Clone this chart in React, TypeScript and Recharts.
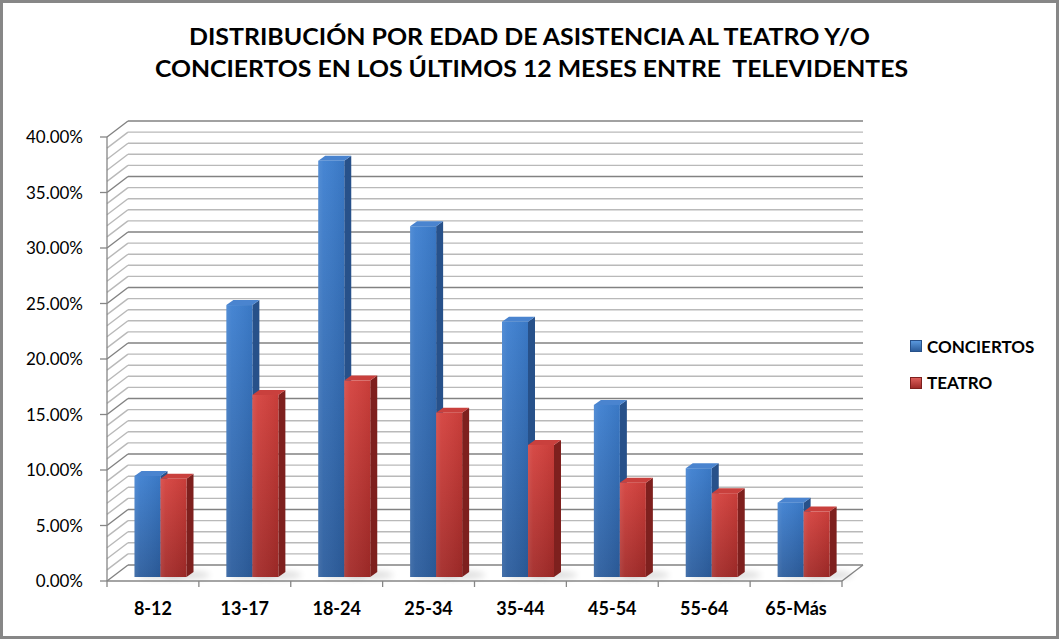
import React from 'react';
import { BarChart, Bar, XAxis, YAxis, CartesianGrid, Legend } from 'recharts';

// ---------- data ----------
const AGE_GROUPS = ['8-12', '13-17', '18-24', '25-34', '35-44', '45-54', '55-64', '65-Más'];
const CONCIERTOS = [9.1, 24.5, 37.5, 31.6, 23.0, 15.5, 9.8, 6.7];
const TEATRO = [8.85, 16.4, 17.7, 14.8, 11.9, 8.5, 7.55, 5.9];
const SERIES_NAMES = ['CONCIERTOS', 'TEATRO'];
const Y_MAX = 40;
const LABEL_STEP = 5;
const GRID_TICKS = [0, 1, 2, 3, 4, 5, 6, 7, 8, 9, 10, 11, 12, 13, 14, 15, 16, 17, 18, 19, 20, 21, 22, 23, 24, 25, 26, 27, 28, 29, 30, 31, 32, 33, 34, 35, 36, 37, 38, 39, 40];
const TITLE_LINES = [
  'DISTRIBUCIÓN POR EDAD DE ASISTENCIA AL TEATRO Y/O',
  'CONCIERTOS EN LOS ÚLTIMOS 12 MESES ENTRE  TELEVIDENTES',
];

const data = AGE_GROUPS.map((age, i) => ({ age, conciertos: CONCIERTOS[i], teatro: TEATRO[i] }));

// ---------- layout / style ----------
const W = 1059;
const H = 639;
const MARGIN = { top: 137, right: 217, bottom: 18, left: 7 };
const Y_AXIS_W = 100;
const X_AXIS_H = 40;
const PLOT_W = W - MARGIN.left - MARGIN.right - Y_AXIS_W;
const BAND = PLOT_W / AGE_GROUPS.length;
const WALL_DX = 21;
const WALL_DY = -16;
const BAR_DX = 7.5;
const BAR_DY = -4;
const DEPTH_X = 7;
const DEPTH_Y = -5;
const AXIS_COLOR = '#868686';
const MINOR_COLOR = '#b9b9b9';
const MAJOR_COLOR = '#828282';
const FONT = 'Lato, "Open Sans", sans-serif';

const BLUE = { front: 'gradBlueFront', side: '#27518a', top: '#4a84cf', legend: 'gradBlueLegend' };
const RED = { front: 'gradRedFront', side: '#7e201e', top: '#c9403d', legend: 'gradRedLegend' };

const gridLine = (p: any) => {
  const { x1, y1, x2, index } = p;
  const value = Math.round(((p.y + p.height - y1) / p.height) * Y_MAX);
  const isMajor = value % LABEL_STEP === 0;
  const color = isMajor ? MAJOR_COLOR : MINOR_COLOR;
  const bx1 = x1 + WALL_DX;
  const bx2 = x2 + WALL_DX;
  const by = y1 + WALL_DY;
  return (
    <g key={`g-${index}`}>
      <line x1={x1} y1={y1} x2={bx1} y2={by} stroke={color} strokeWidth={1.4} />
      <line x1={bx1} y1={by} x2={bx2} y2={by} stroke={color} strokeWidth={1.4} />
      {value === 0 && <line x1={x2} y1={y1} x2={bx2} y2={by} stroke={AXIS_COLOR} strokeWidth={1.3} />}
    </g>
  );
};

const Bar3D = (props: any) => {
  const { x, y, width, height, theme } = props;
  if (!(height > 0)) return null;
  const fx = x + BAR_DX;
  const fy = y + BAR_DY;
  const r = fx + width;
  return (
    <g>
      <ellipse cx={fx + width * 1.0} cy={fy + height - 2} rx={width * 0.9} ry={4} fill="#000" opacity={0.13} filter="url(#shadowBlur)" />
      <path d={`M${r},${fy} L${r + DEPTH_X},${fy + DEPTH_Y} L${r + DEPTH_X},${fy + height + DEPTH_Y} L${r},${fy + height} Z`} fill={theme.side} />
      <path d={`M${fx},${fy} L${fx + DEPTH_X},${fy + DEPTH_Y} L${r + DEPTH_X},${fy + DEPTH_Y} L${r},${fy} Z`} fill={theme.top} />
      <rect x={fx} y={fy} width={width} height={height} fill={`url(#${theme.front})`} />
      <rect x={fx} y={fy} width={width} height={height} fill="url(#gradSheen)" />
    </g>
  );
};

const XTick = (props: any) => {
  const { x, y, payload, index } = props;
  const axisY = y - 34;
  const left = x - BAND / 2;
  const right = x + BAND / 2;
  return (
    <g>
      <line x1={left} y1={axisY} x2={left} y2={axisY + 6} stroke={AXIS_COLOR} strokeWidth={1.3} />
      {index === AGE_GROUPS.length - 1 && (
        <line x1={right} y1={axisY} x2={right} y2={axisY + 6} stroke={AXIS_COLOR} strokeWidth={1.3} />
      )}
      <text x={x} y={y} textAnchor="middle" fontFamily={FONT} fontWeight={700} fontSize={18} fill="#000">
        {payload.value}
      </text>
    </g>
  );
};

const YTick = (props: any) => {
  const { x, y, payload } = props;
  if (payload.value % LABEL_STEP !== 0) return null;
  return (
    <g>
      <line x1={x + 17} y1={y} x2={x + 24} y2={y} stroke={AXIS_COLOR} strokeWidth={1.3} />
      <text x={x} y={y} dy="0.36em" textAnchor="end" fontFamily={FONT} fontSize={17} fill="#000">
        {`${payload.value.toFixed(2)}%`}
      </text>
    </g>
  );
};

const LegendContent = () => {
  const themes = [BLUE, RED];
  return (
    <div style={{ fontFamily: FONT, fontWeight: 700, fontSize: 17, color: '#000' }}>
      {SERIES_NAMES.map((name, i) => (
        <div key={name} style={{ display: 'flex', alignItems: 'center', height: 36.5 }}>
          <svg width={12} height={12} style={{ display: 'block' }}>
            <rect x={0.5} y={0.5} width={11} height={11} fill={`url(#${themes[i].legend})`} stroke={themes[i].side} strokeWidth={1} />
          </svg>
          <span style={{ marginLeft: 5, lineHeight: '17px' }}>{name}</span>
        </div>
      ))}
    </div>
  );
};

export default function App() {
  return (
    <div style={{ position: 'absolute', left: 0, top: 0, width: W, height: H, background: '#fff', overflow: 'hidden' }}>
      <svg width={0} height={0} style={{ position: 'absolute' }}>
        <defs>
          <linearGradient id="gradBlueFront" x1="0" y1="0" x2="0" y2="1">
            <stop offset="0%" stopColor="#3d7fd0" />
            <stop offset="100%" stopColor="#2c5d9d" />
          </linearGradient>
          <linearGradient id="gradRedFront" x1="0" y1="0" x2="0" y2="1">
            <stop offset="0%" stopColor="#d4413d" />
            <stop offset="100%" stopColor="#a22a28" />
          </linearGradient>
          <linearGradient id="gradSheen" x1="0" y1="0" x2="1" y2="0">
            <stop offset="0%" stopColor="#fff" stopOpacity={0.12} />
            <stop offset="20%" stopColor="#fff" stopOpacity={0.05} />
            <stop offset="100%" stopColor="#000" stopOpacity={0.06} />
          </linearGradient>
          <linearGradient id="gradBlueLegend" x1="0" y1="0" x2="0" y2="1">
            <stop offset="0%" stopColor="#5c9be0" />
            <stop offset="100%" stopColor="#2a5a98" />
          </linearGradient>
          <linearGradient id="gradRedLegend" x1="0" y1="0" x2="0" y2="1">
            <stop offset="0%" stopColor="#e0605c" />
            <stop offset="100%" stopColor="#9c2826" />
          </linearGradient>
          <filter id="shadowBlur" x="-50%" y="-200%" width="200%" height="500%">
            <feGaussianBlur stdDeviation="3" />
          </filter>
        </defs>
      </svg>

      <svg width={W} height={100} style={{ position: 'absolute', left: 0, top: 0 }}>
        <text x={529.5} y={45} textAnchor="middle" fontFamily={FONT} fontWeight={700} fontSize={23} fill="#000" textLength={681} lengthAdjust="spacingAndGlyphs" style={{ whiteSpace: 'pre' }}>
          {TITLE_LINES[0]}
        </text>
        <text x={531.5} y={77} textAnchor="middle" fontFamily={FONT} fontWeight={700} fontSize={23} fill="#000" textLength={753} lengthAdjust="spacingAndGlyphs" style={{ whiteSpace: 'pre' }}>
          {TITLE_LINES[1]}
        </text>
      </svg>

      <div style={{ position: 'absolute', left: 0, top: 0 }}>
        <BarChart width={W} height={H} data={data} margin={MARGIN} barGap={0} barSize={26}>
          <CartesianGrid vertical={false} horizontal={gridLine} />
          <XAxis
            dataKey="age"
            height={X_AXIS_H}
            axisLine={{ stroke: AXIS_COLOR, strokeWidth: 1.3 }}
            tickLine={false}
            tickSize={0}
            tickMargin={34}
            tick={<XTick />}
            interval={0}
          />
          <YAxis
            width={Y_AXIS_W}
            domain={[0, Y_MAX]}
            ticks={GRID_TICKS}
            interval={0}
            axisLine={{ stroke: AXIS_COLOR, strokeWidth: 1.3 }}
            tickLine={false}
            tickSize={0}
            tickMargin={24}
            tick={<YTick />}
          />
          <Legend
            layout="vertical"
            align="center"
            verticalAlign="middle"
            content={<LegendContent />}
            wrapperStyle={{ left: 910, top: 328, width: 140 }}
          />
          <Bar dataKey="conciertos" name={SERIES_NAMES[0]} fill="#3a78c6" isAnimationActive={false} shape={(p: any) => <Bar3D {...p} theme={BLUE} />} />
          <Bar dataKey="teatro" name={SERIES_NAMES[1]} fill="#c83a37" isAnimationActive={false} shape={(p: any) => <Bar3D {...p} theme={RED} />} />
        </BarChart>
      </div>

      <div style={{ position: 'absolute', left: 0, top: 0, width: W, height: H, boxSizing: 'border-box', border: '3px solid #878787', pointerEvents: 'none' }} />
    </div>
  );
}
